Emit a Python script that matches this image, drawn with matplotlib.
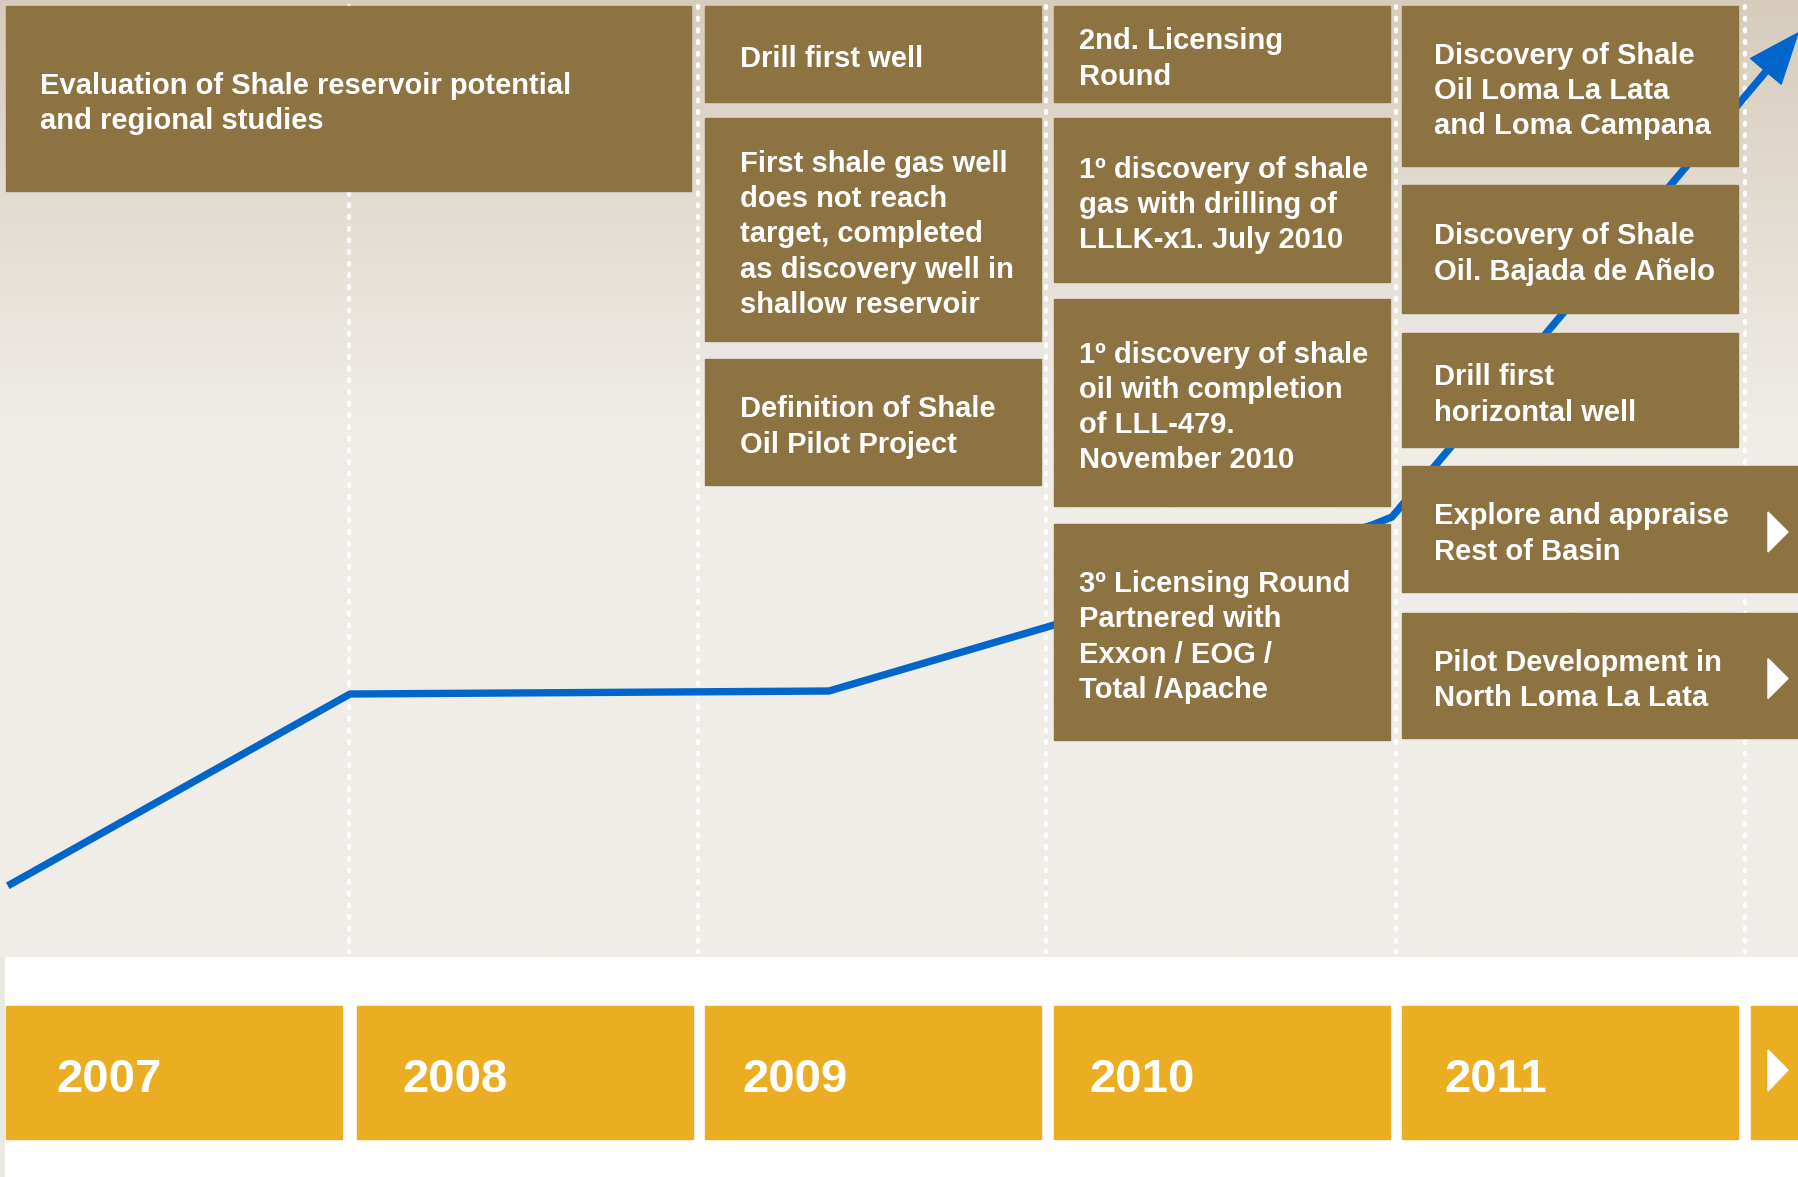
import numpy as np
import matplotlib
matplotlib.use('Agg')
import matplotlib.pyplot as plt
from matplotlib.patches import Rectangle, Polygon

W, H = 1798, 1177

# timeline years along the bottom bar
years = ['2007', '2008', '2009', '2010', '2011']

# milestone texts, one list per year column (2008 column is covered by the 2007 box)
col_2007 = ["Evaluation of Shale reservoir potential\nand regional studies"]
col_2009 = ["Drill first well",
            "First shale gas well\ndoes not reach\ntarget, completed\nas discovery well in\nshallow reservoir",
            "Definition of Shale\nOil Pilot Project"]
col_2010 = ["2nd. Licensing\nRound",
            "1\u00ba discovery of shale\ngas with drilling of\nLLLK-x1. July 2010",
            "1\u00ba discovery of shale\noil with completion\nof LLL-479.\nNovember 2010",
            "3\u00ba Licensing Round\nPartnered with\nExxon / EOG /\nTotal /Apache"]
col_2011 = ["Discovery of Shale\nOil Loma La Lata\nand Loma Campana",
            "Discovery of Shale\nOil. Bajada de A\u00f1elo",
            "Drill first\nhorizontal well",
            "Explore and appraise\nRest of Basin",
            "Pilot Development in\nNorth Loma La Lata"]
# which 2011 items continue beyond the chart (drawn with a arrow marker)
continues = [False, False, False, True, True]

# activity trend line (image units, y grows downward)
trend_x = [11, 350, 829, 1054, 1372, 1392, 1798]
trend_y = [884, 694, 691, 625, 525, 517, 33]

# ---- layout ----
BROWN = '#8c7341'
GOLD = '#ebae22'
BLUE = '#0066cc'

col_x = [6, 357, 705, 1054, 1402, 1751]
col_w = 336
text_pad = [34, 34, 35, 25, 32]

# vertical extents of the boxes per column
rows_2007 = [(6, 191)]
rows_2009 = [(6, 102), (118, 341), (359, 485)]
rows_2010 = [(6, 102), (118, 282), (299, 506), (524, 740)]
rows_2011 = [(6, 166), (185, 313), (333, 447), (466, 592), (613, 738)]

fig = plt.figure(figsize=(W / 100, H / 100), dpi=100)
fig.patch.set_facecolor('#ebe7e1')
ax = fig.add_axes([0, 0, 1, 1])
ax.set_xlim(0, W)
ax.set_ylim(H, 0)
ax.axis('off')

# background gradient (tan at top fading to off-white)
top = np.array([215, 204, 188]) / 255
low = np.array([240, 237, 232]) / 255
t = np.clip(np.linspace(0, 1, 400) / 0.45, 0, 1)[:, None]
grad = top * (1 - t) + low * t
ax.imshow(grad[:, None, :], extent=[0, W, 957, 0], aspect='auto', zorder=0)
ax.add_patch(Rectangle((5, 957), W - 5, H - 957, color='white', zorder=0.5))

# dotted separators
for x in [349, 698, 1046, 1396, 1745]:
    ax.plot([x, x], [6, 952], color='white', lw=3, dashes=(0.5, 2.3),
            dash_capstyle='round', zorder=1)

# trend line + arrow head
ax.plot(trend_x[:-1] + [trend_x[-1] - 30], trend_y[:-1] + [trend_y[-1] + 36],
        color=BLUE, lw=5.3, solid_joinstyle='round', zorder=2)
tip = np.array([trend_x[-1], trend_y[-1]], float)
d = tip - np.array([trend_x[-2], trend_y[-2]], float)
d /= np.hypot(*d)
n = np.array([-d[1], d[0]])
base = tip - 50 * d
ax.add_patch(Polygon([tip, base + 20 * n, base - 20 * n], color=BLUE, zorder=2))


def box(x0, y0, y1, txt, tx, w=col_w, arrow=False):
    ax.add_patch(Rectangle((x0, y0), w, y1 - y0, color=BROWN, zorder=3))
    ax.text(x0 + tx, (y0 + y1) / 2 + 5, txt, color='white', fontsize=21,
            fontweight='bold', family='Liberation Sans', va='center',
            ha='left', linespacing=1.32, zorder=4)
    if arrow:
        yc = (y0 + y1) / 2 + 3
        ax.add_patch(Polygon([[1768, yc - 20], [1788, yc], [1768, yc + 20]],
                             color='white', zorder=4))


for (y0, y1), txt in zip(rows_2007, col_2007):
    box(col_x[0], y0, y1, txt, text_pad[0], w=col_x[2] - 14 - col_x[0])
for (y0, y1), txt in zip(rows_2009, col_2009):
    box(col_x[2], y0, y1, txt, text_pad[2])
for (y0, y1), txt in zip(rows_2010, col_2010):
    box(col_x[3], y0, y1, txt, text_pad[3])
for (y0, y1), txt, c in zip(rows_2011, col_2011, continues):
    box(col_x[4], y0, y1, txt, text_pad[4], w=(W - col_x[4]) if c else col_w, arrow=c)

# year bar
year_pad = [50, 45, 37, 35, 42]
for i, yr in enumerate(years):
    ax.add_patch(Rectangle((col_x[i], 1006), col_w, 133, color=GOLD, zorder=3))
    ax.text(col_x[i] + year_pad[i], 1092, yr, color='white', fontsize=34,
            fontweight='bold', family='Liberation Sans', va='baseline',
            ha='left', zorder=4)
ax.add_patch(Rectangle((col_x[5], 1006), W - col_x[5], 133, color=GOLD, zorder=3))
ax.add_patch(Polygon([[1768, 1050], [1788, 1070], [1768, 1091]], color='white', zorder=4))

fig.savefig('out.png', dpi=100, facecolor=fig.get_facecolor())
